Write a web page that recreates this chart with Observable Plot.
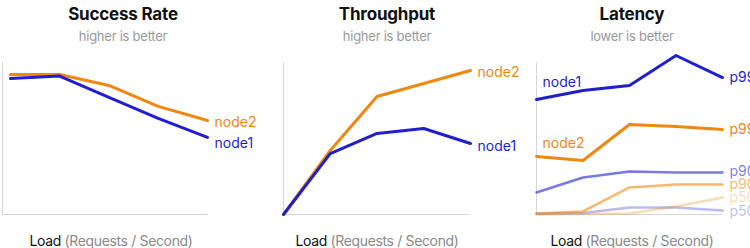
<!DOCTYPE html>
<html><head><meta charset="utf-8">
<script src="https://cdn.jsdelivr.net/npm/d3@7"></script>
<script src="https://cdn.jsdelivr.net/npm/@observablehq/plot@0.6"></script>
<style>
html,body{margin:0;padding:0;background:#fff;}
#root{position:relative;width:750px;height:248px;overflow:hidden;font-family:Inter,sans-serif;}
.panel{position:absolute;top:0;}
.t{position:absolute;white-space:nowrap;transform:translateX(-50%);}
.title{font-weight:700;font-size:17px;line-height:18px;color:#111;top:5px;letter-spacing:-0.2px;}
.sub{font-size:13px;line-height:13px;color:#9a9a9a;top:30px;letter-spacing:-0.25px;}
.xl{font-size:14px;line-height:14px;color:#8a8a8a;top:234px;letter-spacing:-0.35px;}
.xl b{font-weight:400;color:#111;}
</style></head>
<body><div id="root"></div>
<script>
const loads = [1, 2, 3, 4, 5];
const titles = ["Success Rate", "Throughput", "Latency"];
const subtitles = ["higher is better", "higher is better", "lower is better"];
const xLabelMain = "Load";
const xLabelUnit = "(Requests / Second)";

const successNode1 = [89.5, 91.1, 77.0, 63.2, 50.7];
const successNode2 = [92.1, 92.1, 84.9, 71.1, 61.8];
const throughputNode1 = [0, 40.1, 53.3, 56.6, 46.7];
const throughputNode2 = [0, 42.1, 77.6, 86.2, 94.7];
const latencyNode1P99 = [75.7, 81.6, 84.9, 104.6, 90.1];
const latencyNode2P99 = [38.2, 35.5, 59.2, 57.9, 55.9];
const latencyNode1P90 = [14.5, 24.3, 28.3, 27.6, 27.6];
const latencyNode2P90 = [0.7, 2.0, 17.8, 19.7, 19.7];
const latencyNode2P50 = [0, 0.3, 0.7, 5.3, 11.2];
const latencyNode1P50 = [0.7, 1.0, 4.6, 4.6, 2.6];

const BLUE = "#1f1fcf", ORANGE = "#ef8810", AXIS = "#d6d6d6";

const panels = [
  {left: 0, ml: 2, mr: 43, xMin: 0.84, titleX: 123, xlX: 111,
   series: [
     {v: successNode2, c: ORANGE, o: 1, w: 3, end: "node2", dy: 2},
     {v: successNode1, c: BLUE, o: 1, w: 3, end: "node1", dy: 6}
   ]},
  {left: 250, ml: 33, mr: 30, xMin: 1, titleX: 387, xlX: 377,
   series: [
     {v: throughputNode2, c: ORANGE, o: 1, w: 3, end: "node2", dy: 2},
     {v: throughputNode1, c: BLUE, o: 1, w: 3, end: "node1", dy: 3}
   ]},
  {left: 500, ml: 36, mr: 28, xMin: 1, titleX: 632, xlX: 632,
   series: [
     {v: latencyNode1P50, c: BLUE, o: 0.3, w: 2.5, end: "p50", dy: 1},
     {v: latencyNode2P50, c: ORANGE, o: 0.3, w: 2.5, end: "p50", dy: 0},
     {v: latencyNode2P90, c: ORANGE, o: 0.6, w: 2.5, end: "p90", dy: 0},
     {v: latencyNode1P90, c: BLUE, o: 0.6, w: 2.5, end: "p90", dy: -1},
     {v: latencyNode2P99, c: ORANGE, o: 1, w: 3, end: "p99", dy: 0, start: "node2", sdy: -13},
     {v: latencyNode1P99, c: BLUE, o: 1, w: 3, end: "p99", dy: 0, start: "node1", sdy: -17}
   ]}
];

const root = document.getElementById("root");
panels.forEach((p, k) => {
  const marks = [
    Plot.ruleY([0], {stroke: AXIS, strokeWidth: 1}),
    Plot.ruleX([p.xMin], {stroke: AXIS, strokeWidth: 1})
  ];
  for (const s of p.series) {
    marks.push(Plot.line(s.v, {x: (d, i) => loads[i], y: d => d, stroke: s.c, strokeOpacity: s.o, strokeWidth: s.w}));
    marks.push(Plot.text([s.v[s.v.length - 1]], {x: () => loads[loads.length - 1], y: d => d, text: () => s.end,
      textAnchor: "start", dx: 7, dy: s.dy, fill: s.c, fillOpacity: s.o, fontSize: 14}));
    if (s.start) {
      marks.push(Plot.text([s.v[0]], {x: () => loads[0], y: d => d, text: () => s.start,
        textAnchor: "start", dx: 6, dy: s.sdy, fill: s.c, fillOpacity: s.o, fontSize: 14}));
    }
  }
  const chart = Plot.plot({
    width: 250, height: 248,
    marginLeft: p.ml, marginRight: p.mr, marginTop: 62, marginBottom: 34,
    x: {domain: [p.xMin, 5], axis: null},
    y: {domain: [0, 100], axis: null},
    style: {background: "transparent", overflow: "visible", fontFamily: "Inter, sans-serif", fontSize: "14px"},
    marks
  });
  chart.classList.add("panel");
  chart.style.left = p.left + "px";
  root.appendChild(chart);

  const t = document.createElement("div");
  t.className = "t title"; t.textContent = titles[k]; t.style.left = p.titleX + "px";
  const st = document.createElement("div");
  st.className = "t sub"; st.textContent = subtitles[k]; st.style.left = p.titleX + "px";
  const xl = document.createElement("div");
  xl.className = "t xl"; xl.style.left = p.xlX + "px";
  const b = document.createElement("b"); b.textContent = xLabelMain;
  xl.appendChild(b); xl.appendChild(document.createTextNode(" " + xLabelUnit));
  root.appendChild(t); root.appendChild(st); root.appendChild(xl);
});
</script></body></html>
